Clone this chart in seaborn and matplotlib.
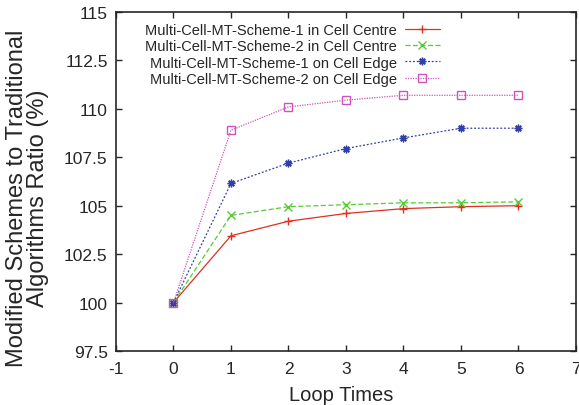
import matplotlib
matplotlib.use('Agg')
import matplotlib.pyplot as plt
import seaborn as sns
import pandas as pd

loops = [0, 1, 2, 3, 4, 5, 6]
labels = [
    'Multi-Cell-MT-Scheme-1 in Cell Centre',
    'Multi-Cell-MT-Scheme-2 in Cell Centre',
    'Multi-Cell-MT-Scheme-1 on Cell Edge',
    'Multi-Cell-MT-Scheme-2 on Cell Edge',
]
scheme1_centre = [100, 103.45, 104.2, 104.6, 104.85, 104.95, 105.0]
scheme2_centre = [100, 104.5, 104.95, 105.05, 105.15, 105.15, 105.2]
scheme1_edge = [100, 106.15, 107.2, 107.95, 108.5, 109.0, 109.0]
scheme2_edge = [100, 108.9, 110.1, 110.45, 110.7, 110.7, 110.7]
ytick_labels = ['97.5', '100', '102.5', '105', '107.5', '110', '112.5', '115']

sns.set_style('ticks')
plt.rcParams['font.family'] = ['Liberation Sans', 'DejaVu Sans']
plt.rcParams['axes.unicode_minus'] = False

fig = plt.figure(figsize=(5.79, 4.06), dpi=100)
ax = fig.add_axes([0.2003, 0.133, 0.7945, 0.835])

series = [scheme1_centre, scheme2_centre, scheme1_edge, scheme2_edge]
colors = ['#e03020', '#55cc33', '#3040a8', '#cc55bb']
styles = ['-', (0, (4, 2)), (0, (1.5, 1.5)), (0, (1, 1))]
markers = ['+', 'x', (8, 2, 0), 's']

for vals, lab, c, ls, m in zip(series, labels, colors, styles, markers):
    df = pd.DataFrame({'loop': loops, 'ratio': vals})
    sns.lineplot(data=df, x='loop', y='ratio', ax=ax, color=c, linestyle=ls,
                 linewidth=0.9, marker=m, markersize=5.5,
                 markerfacecolor='none' if m == 's' else c,
                 markeredgecolor=c, markeredgewidth=1.0, label=lab)

ax.set_xlim(-1, 7)
ax.set_ylim(97.5, 115)
ax.set_xticks(range(-1, 8))
ax.set_yticks([float(t) for t in ytick_labels])
ax.set_yticklabels(ytick_labels)
ax.tick_params(direction='in', top=True, right=True, labelsize=12.5, length=4, width=1)
ax.tick_params(axis='x', pad=7)
ax.tick_params(axis='y', pad=6)
for s in ax.spines.values():
    s.set_linewidth(1.2)
    s.set_visible(True)

ax.set_xlabel('Loop Times', fontsize=14.5)
ax.xaxis.set_label_coords(0.49, -0.1)
ax.set_ylabel('Modified Schemes to Traditional\nAlgorithms Ratio (%)', fontsize=17,
              linespacing=0.95)
ax.yaxis.set_label_coords(-0.145, 0.454)

ax.legend(loc='upper right', bbox_to_anchor=(0.704, 0.967), frameon=False,
          markerfirst=False, fontsize=10.5, handlelength=2.4, handletextpad=0.55,
          labelspacing=0.15, borderaxespad=0, borderpad=0)

fig.savefig('out.png', dpi=100)
